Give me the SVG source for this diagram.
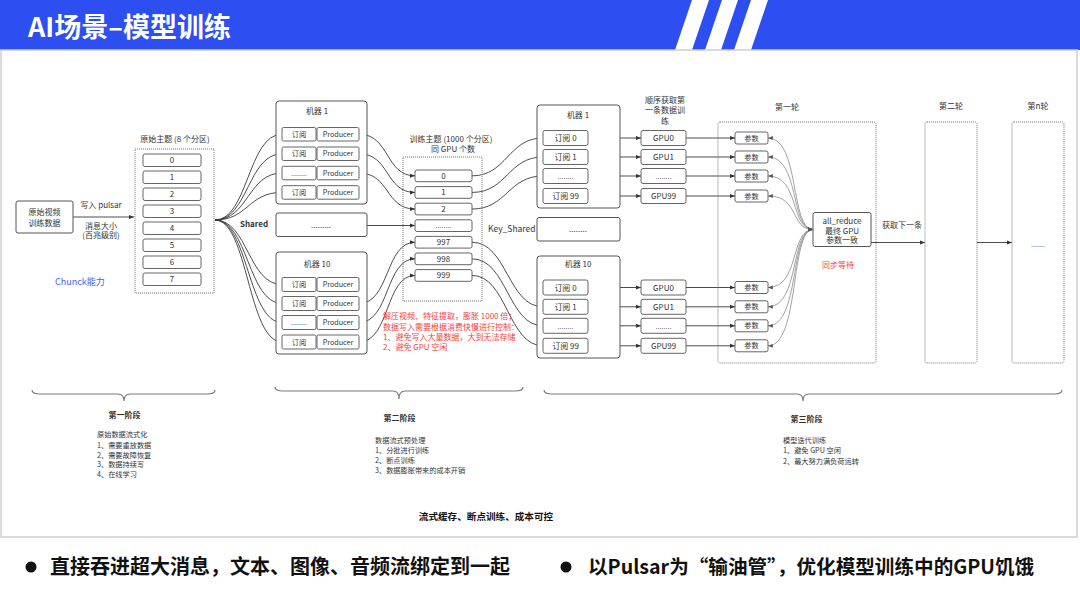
<svg xmlns="http://www.w3.org/2000/svg" width="1080" height="602" viewBox="0 0 1080 602">
<defs>
<style>
text{font-family:"Noto Sans CJK SC","Noto Sans",sans-serif;fill:#333}
.t8{font-size:8px}
.t7{font-size:7.2px}
.c{text-anchor:middle}
.b{font-weight:bold}
.box{fill:#fff;stroke:#555;stroke-width:1}
.cell{fill:#fff;stroke:#555;stroke-width:0.9}
.dot{fill:none;stroke:#777;stroke-width:1;stroke-dasharray:1 1}
.ln{fill:none;stroke:#3a3a3a;stroke-width:0.9}
.lg{fill:none;stroke:#8a8a8a;stroke-width:0.8}
.brace{fill:none;stroke:#7a7a7a;stroke-width:1.2}
.red{fill:#f0433a}
.dots{fill:#666}
</style>
<marker id="ah" viewBox="0 0 10 10" refX="10" refY="5" markerWidth="6" markerHeight="6" orient="auto-start-reverse"><path d="M0,1 L10,5 L0,9 z" fill="#333"/></marker>
<marker id="ag" viewBox="0 0 10 10" refX="10" refY="5" markerWidth="6" markerHeight="6" orient="auto-start-reverse"><path d="M0,1 L10,5 L0,9 z" fill="#555"/></marker>
</defs>
<rect width="1080" height="602" fill="#fff"/>
<g id="header">
<rect x="0" y="0" width="1080" height="50" fill="#2d4ff2"/>
<polygon points="692,0 709,0 692,50 675,50" fill="#fff"/>
<polygon points="722,0 738,0 721,50 705,50" fill="#fff"/>
<polygon points="751,0 768,0 751,50 734,50" fill="#fff"/>
<text x="28" y="37" style="font-size:27px;font-weight:bold;fill:#fff">AI场景–模型训练</text>
</g>
<rect x="1" y="50" width="1076" height="487" fill="none" stroke="#cfcfcf" stroke-width="1.5"/>

<g id="connectors">
<line class="ln" x1="73" y1="217" x2="134" y2="217" marker-end="url(#ah)"/>
<path class="ln" d="M215,220 C248,220 248,134.2 282,134.2" marker-end="url(#ah)"/>
<path class="ln" d="M215,220 C248,220 248,153.7 282,153.7" marker-end="url(#ah)"/>
<path class="ln" d="M215,220 C248,220 248,173 282,173" marker-end="url(#ah)"/>
<path class="ln" d="M215,220 C248,220 248,192.4 282,192.4" marker-end="url(#ah)"/>
<path class="ln" d="M215,220 C248,220 248,284.5 282,284.5" marker-end="url(#ah)"/>
<path class="ln" d="M215,220 C248,220 248,303.5 282,303.5" marker-end="url(#ah)"/>
<path class="ln" d="M215,220 C248,220 248,322.5 282,322.5" marker-end="url(#ah)"/>
<path class="ln" d="M215,220 C248,220 248,342 282,342" marker-end="url(#ah)"/>
<path class="ln" d="M359,134.2 C390,134.2 385,175.85 415,175.85" marker-end="url(#ah)"/>
<path class="ln" d="M359,153.7 C390,153.7 385,192.45 415,192.45" marker-end="url(#ah)"/>
<path class="ln" d="M359,173 C390,173 385,209.05 415,209.05" marker-end="url(#ah)"/>
<line class="ln" x1="367" y1="225.5" x2="415" y2="225.5" marker-end="url(#ah)"/>
<path class="ln" d="M359,303.5 C390,303.5 385,242.25 415,242.25" marker-end="url(#ah)"/>
<path class="ln" d="M359,322.5 C390,322.5 385,258.85 415,258.85" marker-end="url(#ah)"/>
<path class="ln" d="M359,342 C390,342 385,275.45 415,275.45" marker-end="url(#ah)"/>
<path class="ln" d="M472,175.85 C507,175.85 508,138 543,138" marker-end="url(#ah)"/>
<path class="ln" d="M472,192.45 C507,192.45 508,157 543,157" marker-end="url(#ah)"/>
<path class="ln" d="M472,209.05 C507,209.05 508,176 543,176" marker-end="url(#ah)"/>
<path class="ln" d="M472,242.25 C507,242.25 508,306.8 543,306.8" marker-end="url(#ah)"/>
<path class="ln" d="M472,258.85 C507,258.85 508,325.8 543,325.8" marker-end="url(#ah)"/>
<path class="ln" d="M472,275.45 C507,275.45 508,345.8 543,345.8" marker-end="url(#ah)"/>
<line class="ln" x1="588" y1="138" x2="641" y2="138" marker-end="url(#ah)"/>
<line class="ln" x1="588" y1="157" x2="641" y2="157" marker-end="url(#ah)"/>
<line class="ln" x1="588" y1="176" x2="641" y2="176" marker-end="url(#ah)"/>
<line class="ln" x1="588" y1="196" x2="641" y2="196" marker-end="url(#ah)"/>
<line class="ln" x1="588" y1="287.5" x2="641" y2="287.5" marker-end="url(#ah)"/>
<line class="ln" x1="588" y1="306.8" x2="641" y2="306.8" marker-end="url(#ah)"/>
<line class="ln" x1="588" y1="325.8" x2="641" y2="325.8" marker-end="url(#ah)"/>
<line class="ln" x1="588" y1="345.8" x2="641" y2="345.8" marker-end="url(#ah)"/>
<line class="ln" x1="686" y1="138" x2="735" y2="138" marker-end="url(#ah)"/>
<line class="ln" x1="686" y1="157" x2="735" y2="157" marker-end="url(#ah)"/>
<line class="ln" x1="686" y1="176" x2="735" y2="176" marker-end="url(#ah)"/>
<line class="ln" x1="686" y1="196" x2="735" y2="196" marker-end="url(#ah)"/>
<line class="ln" x1="686" y1="287.5" x2="735" y2="287.5" marker-end="url(#ah)"/>
<line class="ln" x1="686" y1="306.8" x2="735" y2="306.8" marker-end="url(#ah)"/>
<line class="ln" x1="686" y1="325.8" x2="735" y2="325.8" marker-end="url(#ah)"/>
<line class="ln" x1="686" y1="345.8" x2="735" y2="345.8" marker-end="url(#ah)"/>
<path class="lg" d="M768,138 C800,138 790,229.5 813,229.5" marker-start="url(#ag)" marker-end="url(#ag)"/>
<path class="lg" d="M768,157 C800,157 790,229.5 813,229.5" marker-start="url(#ag)" marker-end="url(#ag)"/>
<path class="lg" d="M768,176 C800,176 790,229.5 813,229.5" marker-start="url(#ag)" marker-end="url(#ag)"/>
<path class="lg" d="M768,196 C800,196 790,229.5 813,229.5" marker-start="url(#ag)" marker-end="url(#ag)"/>
<path class="lg" d="M768,287.5 C800,287.5 790,229.5 813,229.5" marker-start="url(#ag)" marker-end="url(#ag)"/>
<path class="lg" d="M768,306.8 C800,306.8 790,229.5 813,229.5" marker-start="url(#ag)" marker-end="url(#ag)"/>
<path class="lg" d="M768,325.8 C800,325.8 790,229.5 813,229.5" marker-start="url(#ag)" marker-end="url(#ag)"/>
<path class="lg" d="M768,345.8 C800,345.8 790,229.5 813,229.5" marker-start="url(#ag)" marker-end="url(#ag)"/>
<line class="ln" x1="871" y1="242.5" x2="925" y2="242.5" marker-end="url(#ah)"/>
<line class="ln" x1="977" y1="242.5" x2="1012" y2="242.5" marker-end="url(#ah)"/>
</g>

<g id="source">
<rect class="box" x="16" y="201" width="57" height="32" rx="2"/>
<text class="t8 c" x="44.5" y="214.5">原始视频</text>
<text class="t8 c" x="44.5" y="225.5">训练数据</text>
</g>
<g id="write-label">
<text class="t8 c" x="101" y="208">写入 pulsar</text>
<text class="t8 c" x="101" y="229">消息大小</text>
<text class="t8 c" x="101" y="238">(百兆级别)</text>
<text x="55" y="285" style="font-size:9px;fill:#4563e8">Chunck能力</text>
</g>

<g id="raw-topic">
<text class="t8 c" x="175" y="142">原始主题 (8 个分区)</text>
<rect class="dot" x="135" y="149" width="79" height="144"/>
<rect class="cell" x="143" y="154" width="58" height="12.5" rx="2"/><text class="t8 c" x="172" y="163.3">0</text>
<rect class="cell" x="143" y="171" width="58" height="12.5" rx="2"/><text class="t8 c" x="172" y="180.3">1</text>
<rect class="cell" x="143" y="188" width="58" height="12.5" rx="2"/><text class="t8 c" x="172" y="197.3">2</text>
<rect class="cell" x="143" y="205" width="58" height="12.5" rx="2"/><text class="t8 c" x="172" y="214.3">3</text>
<rect class="cell" x="143" y="222" width="58" height="12.5" rx="2"/><text class="t8 c" x="172" y="231.3">4</text>
<rect class="cell" x="143" y="239" width="58" height="12.5" rx="2"/><text class="t8 c" x="172" y="248.3">5</text>
<rect class="cell" x="143" y="256" width="58" height="12.5" rx="2"/><text class="t8 c" x="172" y="265.3">6</text>
<rect class="cell" x="143" y="273" width="58" height="12.5" rx="2"/><text class="t8 c" x="172" y="282.3">7</text>
</g>
<text class="t8 b" x="240" y="227">Shared</text>

<g id="m1-left">
<rect class="box" x="276" y="101" width="91" height="103" rx="3"/>
<text class="t8 c" x="317" y="114">机器 1</text>
<rect class="cell" x="282" y="127.5" width="34" height="13.5" rx="1.5"/><text class="t7 c" x="299" y="136.8">订阅</text>
<rect class="cell" x="317" y="127.5" width="42" height="13.5" rx="1.5"/><text class="t7 c" x="338" y="136.8">Producer</text>
<rect class="cell" x="282" y="147" width="34" height="13.5" rx="1.5"/><text class="t7 c" x="299" y="156.3">订阅</text>
<rect class="cell" x="317" y="147" width="42" height="13.5" rx="1.5"/><text class="t7 c" x="338" y="156.3">Producer</text>
<rect class="cell" x="282" y="166.3" width="34" height="13.5" rx="1.5"/><text class="t7 c dots" x="299" y="175.6">........</text>
<rect class="cell" x="317" y="166.3" width="42" height="13.5" rx="1.5"/><text class="t7 c" x="338" y="175.6">Producer</text>
<rect class="cell" x="282" y="185.7" width="34" height="13.5" rx="1.5"/><text class="t7 c" x="299" y="195">订阅</text>
<rect class="cell" x="317" y="185.7" width="42" height="13.5" rx="1.5"/><text class="t7 c" x="338" y="195">Producer</text>
</g>
<g id="mid-left">
<rect class="box" x="276" y="213" width="91" height="23.5" rx="2"/>
<text class="t8 c" x="321" y="228">.........</text>
</g>
<g id="m10-left">
<rect class="box" x="276" y="252" width="91" height="102" rx="3"/>
<text class="t8 c" x="317" y="267">机器 10</text>
<rect class="cell" x="282" y="277.5" width="34" height="14" rx="1.5"/><text class="t7 c" x="299" y="287">订阅</text>
<rect class="cell" x="317" y="277.5" width="42" height="14" rx="1.5"/><text class="t7 c" x="338" y="287">Producer</text>
<rect class="cell" x="282" y="296.5" width="34" height="14" rx="1.5"/><text class="t7 c" x="299" y="306">订阅</text>
<rect class="cell" x="317" y="296.5" width="42" height="14" rx="1.5"/><text class="t7 c" x="338" y="306">Producer</text>
<rect class="cell" x="282" y="315.5" width="34" height="14" rx="1.5"/><text class="t7 c dots" x="299" y="325">........</text>
<rect class="cell" x="317" y="315.5" width="42" height="14" rx="1.5"/><text class="t7 c" x="338" y="325">Producer</text>
<rect class="cell" x="282" y="335" width="34" height="14" rx="1.5"/><text class="t7 c" x="299" y="344.5">订阅</text>
<rect class="cell" x="317" y="335" width="42" height="14" rx="1.5"/><text class="t7 c" x="338" y="344.5">Producer</text>
</g>

<g id="train-topic">
<text class="t8 c" x="451" y="142">训练主题 (1000 个分区)</text>
<text class="t8 c" x="453" y="152">同 GPU 个数</text>
<rect class="dot" x="403" y="157" width="79" height="144"/>
<rect class="cell" x="415" y="170" width="57" height="11.7" rx="2"/><text class="t8 c" x="443.5" y="178.8">0</text>
<rect class="cell" x="415" y="186.6" width="57" height="11.7" rx="2"/><text class="t8 c" x="443.5" y="195.4">1</text>
<rect class="cell" x="415" y="203.2" width="57" height="11.7" rx="2"/><text class="t8 c" x="443.5" y="212">2</text>
<rect class="cell" x="415" y="219.8" width="57" height="11.7" rx="2"/><text class="t7 c dots" x="443.5" y="228.3">........</text>
<rect class="cell" x="415" y="236.4" width="57" height="11.7" rx="2"/><text class="t8 c" x="443.5" y="245.2">997</text>
<rect class="cell" x="415" y="253" width="57" height="11.7" rx="2"/><text class="t8 c" x="443.5" y="261.8">998</text>
<rect class="cell" x="415" y="269.6" width="57" height="11.7" rx="2"/><text class="t8 c" x="443.5" y="278.4">999</text>
</g>
<text x="488" y="232" style="font-size:8.5px">Key_Shared</text>
<g id="red-note">
<text class="t8 red" x="383" y="319">解压视频、特征提取，膨胀 1000 倍；</text>
<text class="t8 red" x="383" y="329.5">数据写入需要根据消费快慢进行控制：</text>
<text class="t8 red" x="383" y="339.5">1、避免写入大量数据，大到无法存储</text>
<text class="t8 red" x="383" y="349.5">2、避免 GPU 空闲</text>
</g>

<g id="m1-right">
<rect class="box" x="537" y="105" width="83" height="103" rx="3"/>
<text class="t8 c" x="578" y="118">机器 1</text>
<rect class="cell" x="543" y="130.5" width="45" height="15" rx="2"/><text class="t8 c" x="565.5" y="141">订阅 0</text>
<rect class="cell" x="543" y="149.5" width="45" height="15" rx="2"/><text class="t8 c" x="565.5" y="160">订阅 1</text>
<rect class="cell" x="543" y="168.5" width="45" height="15" rx="2"/><text class="t7 c dots" x="565.5" y="179">........</text>
<rect class="cell" x="543" y="188.5" width="45" height="15" rx="2"/><text class="t8 c" x="565.5" y="199">订阅 99</text>
</g>
<g id="mid-right">
<rect class="box" x="537" y="217.5" width="83" height="23.5" rx="2"/>
<text class="t8 c" x="578" y="232">........</text>
</g>
<g id="m10-right">
<rect class="box" x="537" y="256" width="83" height="102" rx="3"/>
<text class="t8 c" x="578" y="267">机器 10</text>
<rect class="cell" x="543" y="280" width="45" height="15" rx="2"/><text class="t8 c" x="565.5" y="290.5">订阅 0</text>
<rect class="cell" x="543" y="299.3" width="45" height="15" rx="2"/><text class="t8 c" x="565.5" y="309.8">订阅 1</text>
<rect class="cell" x="543" y="318.3" width="45" height="15" rx="2"/><text class="t7 c dots" x="565.5" y="328.8">........</text>
<rect class="cell" x="543" y="338.3" width="45" height="15" rx="2"/><text class="t8 c" x="565.5" y="348.8">订阅 99</text>
</g>

<g id="gpu">
<text class="t8 c" x="665" y="103">顺序获取第</text>
<text class="t8 c" x="665" y="113">一条数据训</text>
<text class="t8 c" x="665" y="123.5">练</text>
<rect class="cell" x="641" y="130.5" width="45" height="15" rx="2"/><text class="t8 c" x="663.5" y="141">GPU0</text>
<rect class="cell" x="641" y="149.5" width="45" height="15" rx="2"/><text class="t8 c" x="663.5" y="160">GPU1</text>
<rect class="cell" x="641" y="168.5" width="45" height="15" rx="2"/><text class="t7 c dots" x="663.5" y="179">........</text>
<rect class="cell" x="641" y="188.5" width="45" height="15" rx="2"/><text class="t8 c" x="663.5" y="199">GPU99</text>
<rect class="cell" x="641" y="280" width="45" height="15" rx="2"/><text class="t8 c" x="663.5" y="290.5">GPU0</text>
<rect class="cell" x="641" y="299.3" width="45" height="15" rx="2"/><text class="t8 c" x="663.5" y="309.8">GPU1</text>
<rect class="cell" x="641" y="318.3" width="45" height="15" rx="2"/><text class="t7 c dots" x="663.5" y="328.8">........</text>
<rect class="cell" x="641" y="338.3" width="45" height="15" rx="2"/><text class="t8 c" x="663.5" y="348.8">GPU99</text>
</g>

<g id="round1">
<text class="t8 c" x="787" y="110">第一轮</text>
<rect class="dot" x="718" y="122" width="158" height="241" rx="2"/>
<rect class="cell" x="735" y="132" width="33" height="12" rx="2"/><text class="t7 c" x="751.5" y="140.6">参数</text>
<rect class="cell" x="735" y="151" width="33" height="12" rx="2"/><text class="t7 c" x="751.5" y="159.6">参数</text>
<rect class="cell" x="735" y="170" width="33" height="12" rx="2"/><text class="t7 c" x="751.5" y="178.6">参数</text>
<rect class="cell" x="735" y="190" width="33" height="12" rx="2"/><text class="t7 c" x="751.5" y="198.6">参数</text>
<rect class="cell" x="735" y="281.5" width="33" height="12" rx="2"/><text class="t7 c" x="751.5" y="290.1">参数</text>
<rect class="cell" x="735" y="300.8" width="33" height="12" rx="2"/><text class="t7 c" x="751.5" y="309.4">参数</text>
<rect class="cell" x="735" y="319.8" width="33" height="12" rx="2"/><text class="t7 c" x="751.5" y="328.4">参数</text>
<rect class="cell" x="735" y="339.8" width="33" height="12" rx="2"/><text class="t7 c" x="751.5" y="348.4">参数</text>
<text class="t8 c red" x="838" y="268">同步等待</text>
</g>
<g id="all-reduce">
<rect class="box" x="813" y="212.5" width="58" height="34" rx="2"/>
<text class="t8 c" x="842" y="224">all_reduce</text>
<text class="t8 c" x="842" y="233.5">最终 GPU</text>
<text class="t8 c" x="842" y="243">参数一致</text>
</g>
<text class="t8" x="882" y="228">获取下一条</text>
<g id="round2">
<text class="t8 c" x="951" y="109">第二轮</text>
<rect class="dot" x="925" y="122" width="52" height="241" rx="2"/>
</g>
<g id="roundn">
<text class="t8 c" x="1038" y="109">第n轮</text>
<rect class="dot" x="1012" y="122" width="52" height="241" rx="2"/>
<text class="t7 c dots" x="1038" y="247">.......</text>
</g>

<g id="stage1">
<path class="brace" d="M32,390 Q32,394 40,394 L118,394 Q124,394 124,401 Q124,394 130,394 L207,394 Q215,394 215,390"/>
<text class="t8 c b" x="124.5" y="418">第一阶段</text>
<text class="t7" x="97" y="437.3">原始数据流式化</text>
<text class="t7" x="97" y="448">1、需要重放数据</text>
<text class="t7" x="97" y="458">2、需要故障恢复</text>
<text class="t7" x="97" y="467.3">3、数据持续写</text>
<text class="t7" x="97" y="477.3">4、在线学习</text>
</g>
<g id="stage2">
<path class="brace" d="M275,387 Q275,391 283,391 L393,391 Q399,391 399,399 Q399,391 405,391 L515,391 Q523,391 523,387"/>
<text class="t8 c b" x="399.5" y="421">第二阶段</text>
<text class="t7" x="375" y="443">数据流式预处理</text>
<text class="t7" x="375" y="453">1、分批进行训练</text>
<text class="t7" x="375" y="463">2、断点训练</text>
<text class="t7" x="375" y="473">3、数据膨胀带来的成本开销</text>
</g>
<g id="stage3">
<path class="brace" d="M544,390 Q544,394 552,394 L797,394 Q803,394 803,401 Q803,394 809,394 L1054,394 Q1062,394 1062,390"/>
<text class="t8 c b" x="806.5" y="422">第三阶段</text>
<text class="t7" x="783" y="443">模型迭代训练</text>
<text class="t7" x="783" y="453">1、避免 GPU 空闲</text>
<text class="t7" x="783" y="464">2、最大努力满负荷运转</text>
</g>
<text class="c b" x="486" y="520" style="font-size:9.6px;fill:#111">流式缓存、断点训练、成本可控</text>

<g id="bullets">
<circle cx="31" cy="567" r="5.5" fill="#111"/>
<text x="50" y="574" style="font-size:20px;font-weight:bold;fill:#111">直接吞进超大消息，文本、图像、音频流绑定到一起</text>
<circle cx="566" cy="567" r="5.5" fill="#111"/>
<text x="588" y="574" style="font-size:19.6px;font-weight:bold;fill:#111">以Pulsar为“输油管”，优化模型训练中的GPU饥饿</text>
</g>
</svg>
